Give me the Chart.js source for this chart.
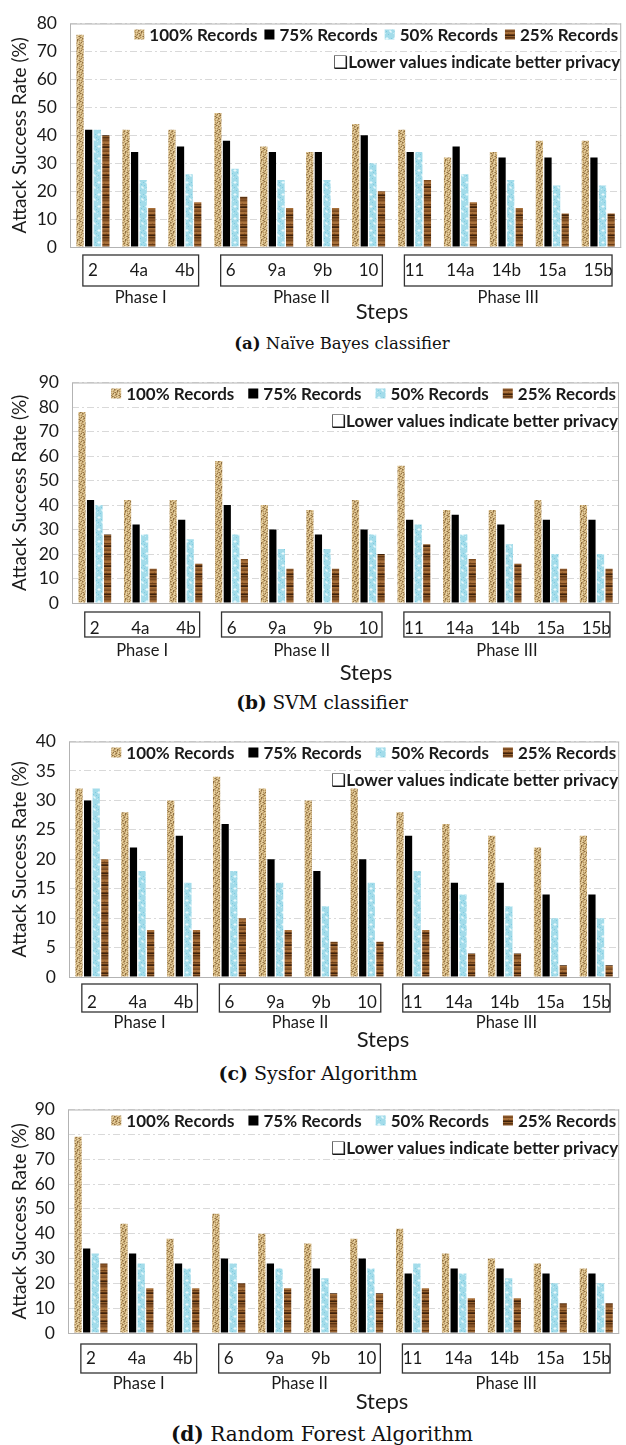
<!DOCTYPE html>
<html>
<head>
<meta charset="utf-8">
<script src="https://cdn.jsdelivr.net/npm/chart.js@4.4.1/dist/chart.umd.min.js"></script>
<style>
  body { margin: 0; background: #fff; }
  #page { position: relative; width: 626px; height: 1445px; overflow: hidden; background: #fff; }
  #page canvas { position: absolute; left: 0; }
  .cap { position: absolute; width: 600px; text-align: center; font-family: "DejaVu Serif", serif; color: #111; white-space: nowrap; }
  .cap b { font-weight: bold; }
</style>
</head>
<body>
<div id="page"></div>
<script>
// Shared categories
const steps = ['2', '4a', '4b', '6', '9a', '9b', '10', '11', '14a', '14b', '15a', '15b'];
const seriesNames = ['100% Records', '75% Records', '50% Records', '25% Records'];
const phaseNames = ['Phase I', 'Phase II', 'Phase III'];
const phaseFirst = [0, 3, 7];
const phaseLast = [2, 6, 11];
const noteText = '❑Lower values indicate better privacy';

// (a) Naive Bayes classifier
const nbRec100 = [76, 42, 42, 48, 36, 34, 44, 42, 32, 34, 38, 38];
const nbRec75  = [42, 34, 36, 38, 34, 34, 40, 34, 36, 32, 32, 32];
const nbRec50  = [42, 24, 26, 28, 24, 24, 30, 34, 26, 24, 22, 22];
const nbRec25  = [40, 14, 16, 18, 14, 14, 20, 24, 16, 14, 12, 12];

// (b) SVM classifier
const svmRec100 = [78, 42, 42, 58, 40, 38, 42, 56, 38, 38, 42, 40];
const svmRec75  = [42, 32, 34, 40, 30, 28, 30, 34, 36, 32, 34, 34];
const svmRec50  = [40, 28, 26, 28, 22, 22, 28, 32, 28, 24, 20, 20];
const svmRec25  = [28, 14, 16, 18, 14, 14, 20, 24, 18, 16, 14, 14];

// (c) Sysfor algorithm
const sysRec100 = [32, 28, 30, 34, 32, 30, 32, 28, 26, 24, 22, 24];
const sysRec75  = [30, 22, 24, 26, 20, 18, 20, 24, 16, 16, 14, 14];
const sysRec50  = [32, 18, 16, 18, 16, 12, 16, 18, 14, 12, 10, 10];
const sysRec25  = [20, 8, 8, 10, 8, 6, 6, 8, 4, 4, 2, 2];

// (d) Random forest algorithm
const rfRec100 = [79, 44, 38, 48, 40, 36, 38, 42, 32, 30, 28, 26];
const rfRec75  = [34, 32, 28, 30, 28, 26, 30, 24, 26, 26, 24, 24];
const rfRec50  = [32, 28, 26, 28, 26, 22, 26, 28, 24, 22, 20, 20];
const rfRec25  = [28, 18, 18, 20, 18, 16, 16, 18, 14, 14, 12, 12];

const yTicksA = [0, 80, 10];
const yTicksB = [0, 90, 10];
const yTicksC = [0, 40, 5];
const yTicksD = [0, 90, 10];

const textFont = 'Lato';
const textColor = '#1a1a1a';

// Small pixel tiles used as bar fills (paper / water / wood look)
function makeTile(rows, palette) {
    const c = document.createElement('canvas');
    c.width = rows[0].length;
    c.height = rows.length;
    const g = c.getContext('2d');
    rows.forEach((row, y) => {
        for (let x = 0; x < row.length; x++) {
            g.fillStyle = palette[row[x]];
            g.fillRect(x, y, 1, 1);
        }
    });
    return g.createPattern(c, 'repeat');
}

const tanFill = makeTile([
    'abacadab',
    'cabdabca',
    'adcabacb',
    'bacbdaca',
    'acabacbd',
    'dbacbaca',
    'acdbacab',
    'cabacdba'
], { a: '#d3b67f', b: '#b39360', c: '#e6d0a2', d: '#8e6f44' });

const cyanFill = makeTile([
    'aaaaaaaa',
    'aabbaaaa',
    'abddbaac',
    'aabbaaaa',
    'aaaaacaa',
    'caaaaaaa',
    'aaaaabba',
    'aacaabdb',
    'aaaaaabb',
    'abaaaaaa',
    'aaaacaaa',
    'aaaaaaaa'
], { a: '#a3dcea', b: '#c6ecf5', c: '#7fcbe0', d: '#e8f8fb' });

const woodFill = makeTile([
    'aaaaaa', 'bbbbbb', 'cccccc', 'ccbccc', 'dddddd', 'bbbbbb', 'eeeeee', 'ffffff',
    'cccccc', 'bbbbbb', 'gggggg', 'aaaaaa', 'cccccc', 'ccccbc', 'dddddd', 'ffffff',
    'bbbbbb', 'eeeeee', 'aaaaaa', 'gggggg'
], { a: '#7b4a1f', b: '#94602e', c: '#a86f39', d: '#6a3d17', e: '#5a3313', f: '#3f220b', g: '#86542a' });

const seriesFills = [tanFill, '#000000', cyanFill, woodFill];

// Layout per panel (pixel positions on the page)
const panels = [
    { tag: '(a)', caption: 'Naïve Bayes classifier', data: [nbRec100, nbRec75, nbRec50, nbRec25], ticks: yTicksA,
      top: 14, bottom: 247, left: 70, gap: 7, tickPad: 13, box: [8, 39], phaseY: 51, stepsY: 65, stepsX: 382,
      capY: 344, capX: 342, capSize: 16.5 },
    { tag: '(b)', caption: 'SVM classifier', data: [svmRec100, svmRec75, svmRec50, svmRec25], ticks: yTicksB,
      top: 373, bottom: 603, left: 72, gap: 14, tickPad: 15, box: [9, 34], phaseY: 48, stepsY: 70, stepsX: 366,
      capY: 703, capX: 322, capSize: 18.5 },
    { tag: '(c)', caption: 'Sysfor Algorithm', data: [sysRec100, sysRec75, sysRec50, sysRec25], ticks: yTicksC,
      top: 732, bottom: 977, left: 69, gap: 14, tickPad: 15, box: [7, 35], phaseY: 46, stepsY: 63, stepsX: 383,
      capY: 1073, capX: 318, capSize: 19 },
    { tag: '(d)', caption: 'Random Forest Algorithm', data: [rfRec100, rfRec75, rfRec50, rfRec25], ticks: yTicksD,
      top: 1100, bottom: 1333, left: 68, gap: 14, tickPad: 15, box: [11, 40], phaseY: 51, stepsY: 69, stepsX: 382,
      capY: 1434, capX: 322, capSize: 20 }
];

const padTop = 14;
const xAxisHeight = 80;
const pageWidth = 626;
const plotRight = 623;

// Plot frame under the bars
const framePlugin = {
    id: 'frame',
    beforeDatasetsDraw(chart) {
        const { ctx, chartArea: a } = chart;
        ctx.save();
        ctx.strokeStyle = '#b3b3b3';
        ctx.lineWidth = 1;
        ctx.strokeRect(a.left + 0.5, a.top + 0.5, a.right - a.left - 1, a.bottom - a.top);
        ctx.restore();
    }
};

// Legend inside the plot, phase boxes and axis title under the categories
const decorPlugin = {
    id: 'decor',
    afterDraw(chart, args, opts) {
        const { ctx, chartArea: a } = chart;
        const xs = chart.scales.x;
        const p = opts.panel;
        ctx.save();

        // legend row
        ctx.font = 'bold 17px ' + textFont;
        ctx.textBaseline = 'middle';
        const items = chart.data.datasets.map(ds => ({ label: ds.label, fill: ds.backgroundColor }));
        const widths = items.map(it => 15 + ctx.measureText(it.label).width);
        const total = widths.reduce((s, w) => s + w, 0) + p.gap * (items.length - 1);
        let x = a.right - 3 - total;
        const rowY = a.top + 11;
        items.forEach((it, i) => {
            ctx.fillStyle = it.fill;
            ctx.fillRect(x, rowY - 5, 10, 10);
            ctx.fillStyle = textColor;
            ctx.textAlign = 'left';
            ctx.fillText(it.label, x + 15, rowY + 1);
            x += widths[i] + p.gap;
        });

        // note line
        ctx.textAlign = 'right';
        ctx.font = 'bold 17px ' + textFont + ', "DejaVu Sans"';
        ctx.fillText(noteText, a.right - 1, a.top + 39);

        // phase boxes
        ctx.strokeStyle = '#333';
        ctx.lineWidth = 1.3;
        ctx.font = '16.5px ' + textFont;
        ctx.textAlign = 'center';
        phaseNames.forEach((name, i) => {
            const x0 = xs.getPixelForValue(phaseFirst[i] - 0.22);
            const x1 = Math.min(xs.getPixelForValue(phaseLast[i] + 0.3), a.right + 1);
            ctx.strokeRect(x0, a.bottom + p.box[0], x1 - x0, p.box[1] - p.box[0]);
            ctx.fillStyle = textColor;
            ctx.fillText(name, (x0 + x1) / 2, a.bottom + p.phaseY);
        });

        // x axis title
        ctx.font = '22px ' + textFont;
        ctx.fillText('Steps', p.stepsX, a.bottom + p.stepsY);
        ctx.restore();
    }
};

function buildPanel(p) {
    const page = document.getElementById('page');
    const canvas = document.createElement('canvas');
    canvas.width = pageWidth;
    canvas.height = p.bottom - p.top + padTop + xAxisHeight;
    canvas.style.top = (p.top - padTop) + 'px';
    page.appendChild(canvas);

    const cap = document.createElement('div');
    cap.className = 'cap';
    cap.style.left = (p.capX - 300) + 'px';
    cap.style.top = (p.capY - p.capSize * 0.7) + 'px';
    cap.style.fontSize = p.capSize + 'px';
    cap.style.lineHeight = (p.capSize * 1.4) + 'px';
    cap.innerHTML = '<b>' + p.tag + '</b> ' + p.caption;
    page.appendChild(cap);

    return new Chart(canvas.getContext('2d'), {
        type: 'bar',
        data: {
            labels: steps,
            datasets: seriesNames.map((name, i) => ({
                label: name,
                data: p.data[i],
                backgroundColor: seriesFills[i],
                borderWidth: 0,
                categoryPercentage: 0.75,
                barPercentage: 0.84
            }))
        },
        options: {
            responsive: false,
            animation: false,
            devicePixelRatio: 1,
            layout: { padding: { top: padTop, left: 0, right: pageWidth - plotRight, bottom: 0 } },
            plugins: {
                legend: { display: false },
                tooltip: { enabled: false },
                decor: { panel: p }
            },
            scales: {
                x: {
                    grid: { display: false, drawTicks: false },
                    border: { display: false },
                    ticks: {
                        font: { family: textFont, size: 17 },
                        color: textColor,
                        padding: p.tickPad,
                        maxRotation: 0,
                        autoSkip: false
                    },
                    afterFit(scale) { scale.height = xAxisHeight; }
                },
                y: {
                    min: p.ticks[0],
                    max: p.ticks[1],
                    grid: { color: '#d9d9d9', drawTicks: false },
                    border: { display: false, dash: [7, 3, 2, 3] },
                    ticks: {
                        stepSize: p.ticks[2],
                        font: { family: textFont, size: 17.5 },
                        color: textColor,
                        padding: 13
                    },
                    title: {
                        display: true,
                        text: 'Attack Success Rate (%)',
                        font: { family: textFont, size: 19 },
                        color: textColor,
                        padding: { top: 8, bottom: 0 }
                    },
                    afterFit(scale) { scale.width = p.left; }
                }
            }
        },
        plugins: [framePlugin, decorPlugin]
    });
}

panels.forEach(buildPanel);
</script>
</body>
</html>
